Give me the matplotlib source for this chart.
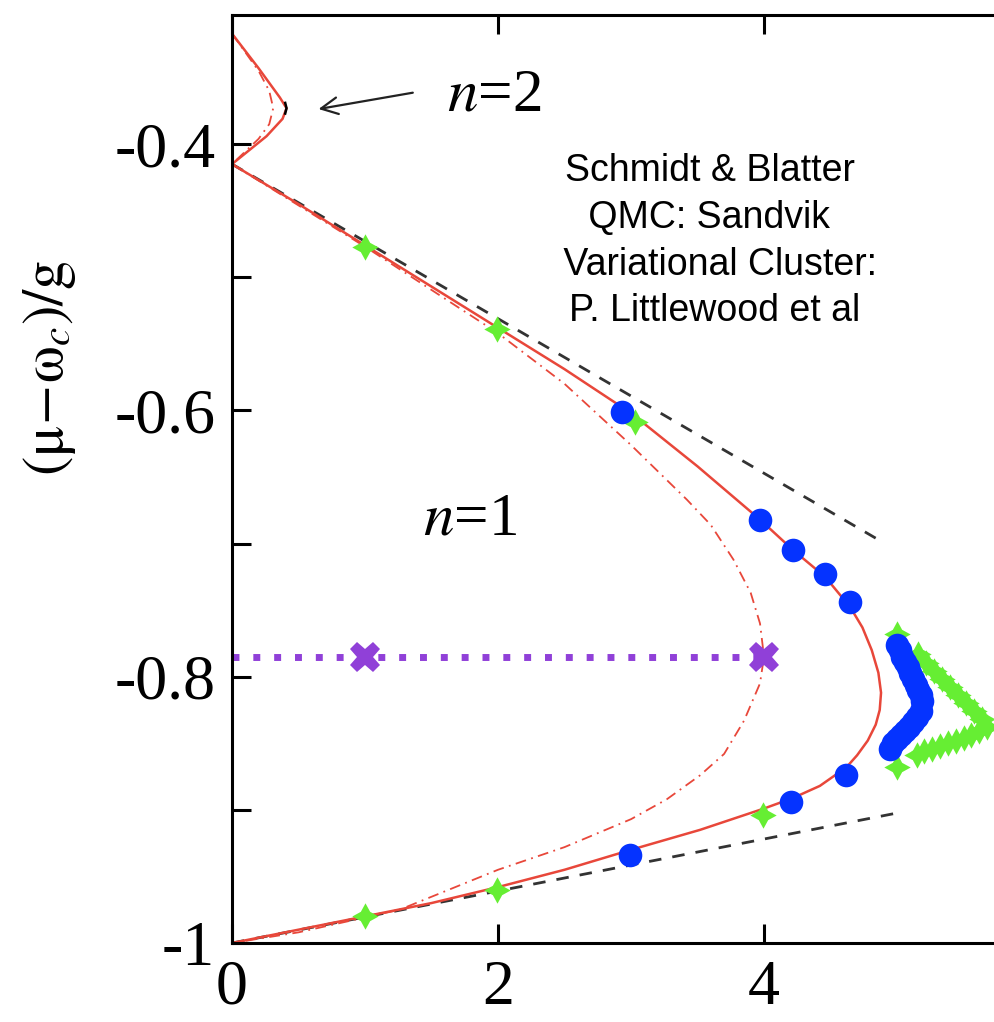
import numpy as np
import matplotlib
matplotlib.use("Agg")
import matplotlib.pyplot as plt

plt.rcParams['font.family'] = ['Liberation Serif', 'DejaVu Serif']
plt.rcParams['mathtext.fontset'] = 'stix'

# Theory curves
n1_solid_x = [0.00, 0.50, 1.00, 1.50, 2.00, 2.50, 3.00, 3.50, 3.97, 4.22, 4.46, 4.65, 4.74, 4.81, 4.86, 4.88,
              4.87, 4.84, 4.78, 4.70, 4.62, 4.42, 4.22, 4.00, 3.52, 3.00, 2.50, 2.00, 1.50, 1.00, 0.50, 0.00]
n1_solid_y = [-0.415, -0.445, -0.476, -0.507, -0.538, -0.569, -0.602, -0.642, -0.682, -0.705, -0.725, -0.748,
              -0.763, -0.780, -0.797, -0.812, -0.825, -0.836, -0.848, -0.859, -0.868, -0.882, -0.891, -0.899,
              -0.915, -0.930, -0.945, -0.958, -0.970, -0.980, -0.990, -1.000]

n1_dd_x = [0.00, 1.00, 2.00, 2.50, 3.00, 3.42, 3.60, 3.77, 3.90, 3.97, 4.00, 3.97, 3.85, 3.70, 3.52,
           3.27, 3.00, 2.50, 2.00, 1.26, 0.50, 0.00]
n1_dd_y = [-0.415, -0.477, -0.542, -0.580, -0.626, -0.667, -0.686, -0.712, -0.737, -0.760, -0.785, -0.805,
           -0.833, -0.858, -0.874, -0.892, -0.907, -0.928, -0.945, -0.975, -0.992, -1.000]

n2_solid_x = [0.00, 0.20, 0.36, 0.41, 0.38, 0.26, 0.00]
n2_solid_y = [-0.317, -0.343, -0.365, -0.373, -0.381, -0.394, -0.415]
n2_dd_x = [0.00, 0.20, 0.28, 0.31, 0.28, 0.20, 0.00]
n2_dd_y = [-0.317, -0.345, -0.360, -0.373, -0.385, -0.396, -0.415]

# Asymptotes
upper_dash_x = [0.00, 4.91]
upper_dash_y = [-0.415, -0.700]
lower_dash_x = [0.00, 5.02]
lower_dash_y = [-1.000, -0.902]

# Mean field line / crosses
mf_x = [0.0, 4.0]
mf_y = [-0.785, -0.785]
cross_x = [1.0, 4.0]
cross_y = [-0.785, -0.785]

# QMC points (blue)
qmc_x = [2.93, 3.97, 4.22, 4.46, 4.65, 4.62, 4.20, 2.99,
         5.00, 5.02, 5.04, 5.06, 5.08, 5.10, 5.12, 5.14, 5.16, 5.18, 5.19,
         5.18, 5.15, 5.12, 5.09, 5.06, 5.03, 5.00, 4.97, 4.95]
qmc_y = [-0.601, -0.682, -0.705, -0.723, -0.744, -0.874, -0.894, -0.934,
         -0.776, -0.780, -0.785, -0.789, -0.793, -0.797, -0.802, -0.806, -0.810, -0.814, -0.818,
         -0.826, -0.830, -0.834, -0.838, -0.841, -0.844, -0.847, -0.850, -0.854]

# Variational cluster points (green)
vc_x = [1.00, 1.99, 3.03, 3.99, 1.99, 1.00,
        5.00, 5.16, 5.22, 5.28, 5.34, 5.40, 5.46, 5.52, 5.58, 5.64, 5.68,
        5.62, 5.56, 5.50, 5.44, 5.38, 5.32, 5.26, 5.20, 5.15, 5.00]
vc_y = [-0.477, -0.539, -0.609, -0.904, -0.960, -0.980,
        -0.768, -0.783, -0.790, -0.796, -0.802, -0.808, -0.814, -0.820, -0.826, -0.832, -0.838,
        -0.841, -0.844, -0.846, -0.848, -0.850, -0.852, -0.854, -0.856, -0.859, -0.868]

red = '#e8473a'
purple = '#9040d8'
fig = plt.figure(figsize=(9.94, 10.22), dpi=100)
ax = fig.add_axes([232 / 994, 79 / 1022, 798 / 994, 928 / 1022])

ax.plot(upper_dash_x, upper_dash_y, color='#333333', lw=2, dashes=(4.5, 4))
ax.plot(lower_dash_x, lower_dash_y, color='#333333', lw=2, dashes=(4.5, 4))
ax.plot(n1_dd_x, n1_dd_y, color=red, lw=1.3, linestyle=(0, (6, 3, 1, 3)))
ax.plot(n2_dd_x, n2_dd_y, color=red, lw=1.3, linestyle=(0, (6, 3, 1, 3)))
ax.plot(n1_solid_x, n1_solid_y, color=red, lw=1.8)
ax.plot(n2_solid_x, n2_solid_y, color=red, lw=1.8)
ax.plot([0.40, 0.41, 0.40], [-0.369, -0.373, -0.377], color='k', lw=1.8)

ax.plot(mf_x, mf_y, color=purple, lw=5, dashes=(1, 2), solid_capstyle='butt', dash_capstyle='butt')
ax.plot(cross_x, cross_y, 'X', color=purple, ms=22, mew=0)

ax.plot(vc_x, vc_y, linestyle='none', marker=(4, 1, 0), color='#66ee33', ms=19, mew=0)
ax.plot(qmc_x, qmc_y, 'o', color='#0533ff', ms=17, mew=0)

ax.annotate('', xy=(0.63, -0.374), xytext=(1.38, -0.361),
            arrowprops=dict(arrowstyle='->', lw=1.6, color='#222222', mutation_scale=30))
ax.text(1.62, -0.364, r'$n$=2', fontsize=44, ha='left', va='center')
ax.text(1.79, -0.682, r'$n$=1', fontsize=44, ha='center', va='center')
ax.text(3.63, -0.407, 'Schmidt & Blatter \n QMC: Sandvik  \n Variational Cluster:\nP. Littlewood et al',
        family='Liberation Sans', fontsize=27, ha='center', va='top', multialignment='center',
        linespacing=1.38)

ax.set_xlim(0, 6)
ax.set_ylim(-1, -0.303)
ax.set_xticks([0, 2, 4])
ax.set_xticklabels(['0', '2', '4'])
ax.set_yticks([-1, -0.8, -0.6, -0.4])
ax.set_yticklabels(['-1', '-0.8', '-0.6', '-0.4'])
ax.set_yticks([-0.9, -0.7, -0.5], minor=True)
ax.tick_params(which='both', direction='in', length=14, width=2.2, top=True, right=True,
               labelsize=46, pad=12)
for s in ax.spines.values():
    s.set_linewidth(2.2)

fig.text(0.05, 0.64, r'$(\mathrm{\mu}\!-\!\mathrm{\omega}_c)/\mathrm{g}$', rotation=90, fontsize=42,
         ha='center', va='center')

fig.savefig('out.png', dpi=100)
